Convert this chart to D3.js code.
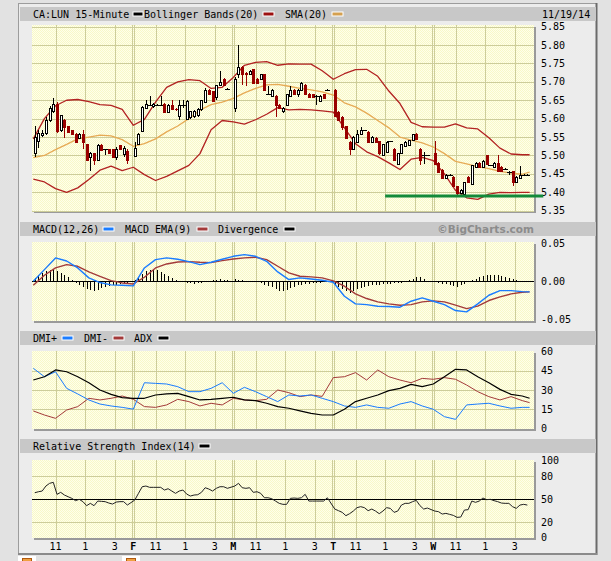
<!DOCTYPE html>
<html>
<head>
<meta charset="utf-8">
<script src="https://cdn.jsdelivr.net/npm/d3@7"></script>
<style>
  html, body { margin: 0; padding: 0; background: #e2e2e2; }
  svg { display: block; }
  text { font-family: "DejaVu Sans Mono", monospace; font-size: 10px; fill: #000; }
</style>
</head>
<body>
<div id="chart"></div>
<script>
// ---- data ----
const dayLetters = ["", "F", "M", "T", "W"];
const hourLabels = ["11", "1", "3"];
const hourSlots = [6, 14, 22];          // 11:00, 1:00, 3:00 inside a 27-slot day
const barsPerDay = 26;
const slotsPerDay = 27;

const priceTicks = [5.35, 5.40, 5.45, 5.50, 5.55, 5.60, 5.65, 5.70, 5.75, 5.80, 5.85];
const macdTicks = [0.05, 0, -0.05];
const macdTickLabels = ["0.05", "0.00", "-0.05"];
const dmiTicks = [60, 45, 30, 15, 0];
const rsiTicks = [100, 80, 50, 20, 0];

// 15-minute candles, 5 days x 26 bars
const opens = [
  5.506,5.54,5.555,5.56,5.595,5.621,5.641,5.568,5.597,5.58,5.568,5.559,5.548,5.559,5.53,5.497,5.507,5.488,5.529,5.518,5.518,5.518,5.497,5.529,5.505,5.513,
  5.498,5.53,5.567,5.63,5.638,5.633,5.638,5.638,5.64,5.618,5.638,5.627,5.607,5.636,5.60,5.605,5.607,5.609,5.625,5.645,5.679,5.674,5.659,5.691,5.709,5.68,
  5.63,5.721,5.739,5.725,5.72,5.734,5.709,5.709,5.72,5.668,5.661,5.661,5.638,5.621,5.638,5.661,5.679,5.668,5.679,5.691,5.668,5.666,5.661,5.648,5.666,5.679,
  5.679,5.618,5.605,5.579,5.536,5.518,5.536,5.559,5.568,5.565,5.536,5.548,5.538,5.50,5.509,5.538,5.518,5.477,5.506,5.527,5.529,5.541,5.559,5.518,5.50,5.50,
  5.506,5.48,5.46,5.439,5.448,5.441,5.416,5.397,5.394,5.441,5.423,5.468,5.479,5.47,5.50,5.473,5.468,5.479,5.47,5.464,5.455,5.457,5.427,5.439,5.448,5.448
];
const highs = [
  5.579,5.57,5.57,5.605,5.635,5.655,5.645,5.61,5.60,5.58,5.57,5.56,5.561,5.568,5.53,5.51,5.507,5.53,5.53,5.518,5.518,5.518,5.523,5.529,5.525,5.518,
  5.536,5.56,5.635,5.65,5.661,5.642,5.64,5.661,5.642,5.64,5.65,5.63,5.65,5.65,5.65,5.622,5.624,5.63,5.652,5.682,5.68,5.676,5.692,5.729,5.71,5.682,
  5.714,5.80,5.742,5.728,5.732,5.736,5.711,5.722,5.722,5.69,5.681,5.663,5.64,5.632,5.668,5.69,5.681,5.681,5.70,5.693,5.67,5.668,5.663,5.663,5.668,5.681,
  5.681,5.62,5.607,5.581,5.538,5.552,5.568,5.577,5.57,5.567,5.552,5.55,5.54,5.532,5.538,5.54,5.52,5.508,5.532,5.538,5.543,5.559,5.562,5.52,5.509,5.502,
  5.539,5.482,5.462,5.45,5.45,5.443,5.418,5.408,5.429,5.443,5.475,5.481,5.481,5.488,5.502,5.475,5.481,5.50,5.472,5.466,5.457,5.459,5.443,5.471,5.45,5.45
];
const lows = [
  5.497,5.52,5.55,5.555,5.59,5.615,5.56,5.565,5.548,5.563,5.557,5.535,5.544,5.518,5.488,5.459,5.475,5.486,5.512,5.50,5.505,5.497,5.488,5.515,5.497,5.477,
  5.498,5.528,5.565,5.628,5.636,5.63,5.636,5.636,5.615,5.615,5.625,5.62,5.596,5.63,5.595,5.60,5.603,5.605,5.622,5.642,5.664,5.645,5.65,5.689,5.689,5.678,
  5.618,5.71,5.691,5.69,5.718,5.696,5.696,5.707,5.677,5.664,5.659,5.605,5.628,5.614,5.636,5.659,5.666,5.659,5.677,5.666,5.657,5.657,5.638,5.646,5.655,5.677,
  5.605,5.595,5.568,5.545,5.50,5.516,5.534,5.557,5.566,5.534,5.534,5.534,5.50,5.498,5.507,5.536,5.486,5.475,5.504,5.525,5.527,5.539,5.543,5.474,5.477,5.498,
  5.475,5.453,5.437,5.437,5.446,5.416,5.393,5.394,5.392,5.425,5.42,5.466,5.466,5.468,5.475,5.471,5.466,5.457,5.455,5.462,5.446,5.418,5.425,5.437,5.446,5.446
];
const closes = [
  5.55,5.56,5.56,5.597,5.63,5.639,5.566,5.609,5.577,5.565,5.559,5.536,5.559,5.536,5.488,5.507,5.488,5.529,5.515,5.518,5.507,5.497,5.518,5.518,5.52,5.488,
  5.52,5.559,5.632,5.64,5.638,5.64,5.638,5.638,5.618,5.638,5.627,5.625,5.638,5.636,5.648,5.62,5.621,5.627,5.65,5.679,5.666,5.648,5.691,5.70,5.691,5.68,
  5.709,5.741,5.72,5.72,5.729,5.698,5.698,5.72,5.679,5.668,5.679,5.636,5.63,5.63,5.666,5.679,5.668,5.679,5.698,5.668,5.659,5.659,5.661,5.661,5.657,5.679,
  5.607,5.597,5.577,5.547,5.518,5.55,5.559,5.568,5.568,5.536,5.55,5.536,5.506,5.53,5.536,5.538,5.488,5.506,5.53,5.536,5.541,5.557,5.545,5.488,5.50,5.50,
  5.477,5.455,5.439,5.448,5.448,5.418,5.397,5.406,5.427,5.427,5.473,5.479,5.468,5.486,5.477,5.473,5.479,5.459,5.457,5.464,5.455,5.427,5.441,5.448,5.448,5.448
];

// per-bar indicator values
const macdHist = [
  .0044,.0078,.0104,.0131,.0152,.0165,.0139,.0113,.0078,.0052,.0017,-.0017,-.0044,-.007,-.0096,-.0113,-.0122,-.0109,-.0087,-.0078,-.0065,-.0052,-.0044,-.0035,-.0026,-.0017,
  .0013,.0052,.0096,.0131,.0148,.0152,.0144,.0122,.0096,.0074,.0044,.0022,.0009,-.0009,-.0017,-.0026,-.0035,-.0026,-.0017,-.0004,.0009,.0013,.0022,.0026,.0022,.0017,
  .0026,.0022,.0013,.0009,.0009,-.0004,-.0013,-.0026,-.0044,-.0061,-.0078,-.0104,-.0122,-.0131,-.0113,-.0087,-.007,-.0052,-.0044,-.0035,-.003,-.0026,-.0022,-.0017,-.0013,-.0009,
  -.0044,-.0078,-.0104,-.0131,-.0148,-.0131,-.0104,-.0087,-.007,-.0061,-.0052,-.0048,-.0044,-.0039,-.0035,-.003,-.0026,-.0022,-.0017,-.0009,.0017,.0035,.0061,.0052,.0026,.0009,
  -.0009,-.0022,-.003,-.0039,-.0052,-.0061,-.007,-.0052,-.0035,-.0013,.0013,.0035,.0052,.007,.0078,.0083,.0083,.0078,.007,.0061,.0048,.0035,.0017,.0009,.0004,0
];
const rsi = [
  58.4,59.7,60.6,67.1,70.6,71.9,56.3,58.9,55.4,53.2,51.1,48.1,49.8,46.8,41.6,44.6,41.6,47.6,47.2,46.8,45,43.7,46.3,46.8,46.8,42.4,
  48.9,57.6,66.2,67.1,65.4,65.4,65.4,65.4,61.9,63.6,60.6,57.6,60.6,61.9,56.7,54.1,55.4,55.8,58.9,64.9,63.2,60.6,64.1,66.2,66.2,64.1,
  67.1,70.6,64.9,64.1,64.9,58.9,59.7,57.6,51.9,51.9,50.6,47.6,44.6,43.3,43.3,51.1,51.5,51.1,51.9,56.3,47.6,47.6,47.6,47.6,47.6,51.9,
  37.2,35.1,32.9,28.6,31.2,34.6,39,40.3,39,35.1,37.2,34.6,31.2,34.6,39,38.1,32.9,34.6,42.4,44.6,44.6,46.8,48.5,41.6,37.2,38.5,
  34.6,33.8,30.7,31.6,30.3,29,26.4,26.8,35.9,36.4,47.6,45.9,47.6,51.5,49.4,49.8,48.1,46.8,45,44.6,44.6,40.3,38.1,42.4,43.3,42.4
];

// smoother lines, sampled every 3 slots
const lineSlots = [0,3,6,9,12,15,18,21,24,27,30,33,36,39,42,45,48,51,54,57,60,63,66,69,72,75,78,81,84,87,90,93,96,99,102,105,108,111,114,117,120,123,126,129,132,134];
const bbUpper = [5.545,5.60,5.635,5.65,5.652,5.646,5.638,5.636,5.625,5.582,5.598,5.645,5.685,5.70,5.706,5.703,5.682,5.685,5.712,5.745,5.753,5.755,5.745,5.749,5.748,5.748,5.73,5.707,5.722,5.733,5.734,5.715,5.675,5.641,5.59,5.578,5.577,5.577,5.586,5.575,5.572,5.548,5.52,5.504,5.502,5.502];
const bbLower = [5.436,5.428,5.41,5.40,5.412,5.435,5.46,5.471,5.459,5.468,5.448,5.432,5.443,5.458,5.473,5.505,5.57,5.595,5.591,5.585,5.597,5.612,5.63,5.624,5.625,5.624,5.621,5.618,5.575,5.532,5.51,5.497,5.48,5.462,5.49,5.495,5.486,5.45,5.405,5.385,5.381,5.395,5.40,5.399,5.40,5.40];
const sma20 = [5.494,5.50,5.516,5.53,5.545,5.55,5.555,5.553,5.543,5.525,5.532,5.545,5.564,5.58,5.60,5.623,5.638,5.645,5.655,5.67,5.682,5.692,5.693,5.688,5.682,5.678,5.673,5.664,5.643,5.632,5.615,5.595,5.575,5.55,5.542,5.534,5.523,5.505,5.484,5.477,5.47,5.464,5.457,5.452,5.449,5.455];
const macdLine = [0,.0152,.0305,.0265,.0174,.0044,-.0017,-.0048,-.0052,-.0061,.0174,.0283,.0305,.0287,.0257,.0218,.0248,.0287,.0326,.0348,.0326,.0261,.0122,.0022,.0044,.003,.0013,-.0013,-.0196,-.0296,-.0305,-.0326,-.0331,-.0339,-.0261,-.0218,-.0261,-.0305,-.0383,-.04,-.0296,-.0183,-.0122,-.0122,-.0135,-.0139];
const macdSignal = [-.0052,.0078,.0174,.0218,.0196,.0122,.0065,.0009,-.0022,-.0035,.0052,.0174,.0226,.0252,.0257,.0248,.0244,.027,.0291,.0305,.0313,.0283,.0196,.0109,.0065,.0057,.0044,.0004,-.0065,-.0165,-.0226,-.027,-.0296,-.0313,-.0305,-.027,-.0257,-.027,-.0313,-.0357,-.0326,-.0252,-.0204,-.0165,-.0144,-.0139];
const dmiPlus = [47,40.4,44.3,31.3,26.9,22.2,19,17.5,16.4,15,35.7,35.2,34.7,32.6,28.7,28.7,31.3,35.7,27.4,32.1,28.7,24.8,20.9,26.1,25.3,26.1,23.5,20.9,17.5,16.4,18.3,16.4,15.7,19,20.9,17.5,14.9,9.1,7,18.3,19,19.6,17.5,15.7,16.4,16.4];
const dmiMinus = [13.6,10.4,7.8,14.3,17,23.5,22.2,23.5,25.3,22.7,17,16.4,18.3,22.7,20.9,17.5,19.6,18.3,23.5,22.2,21.7,22.7,30,27.9,24.8,26.1,25,39.7,40.4,43.6,37.8,45.7,40.4,37.8,35.7,39.1,38.4,39.7,38.4,33.9,28.7,24.8,22.2,24.8,21.7,20.1];
const adx = [37.8,40.4,45.7,44.3,40.4,35.7,30,26.6,24,23.5,23.5,26.1,26.9,27.4,24.8,22.2,22.7,23.5,24.3,22.2,21.7,19.6,17,15.7,13.6,11.7,10.4,10.4,14.9,20.9,23.5,26.1,29.5,31.3,34.4,32.6,34.7,40.4,46.2,45.7,40.4,35.7,30.5,26.6,25.3,23.5];

const supportLevel = 5.39;
const supportStartSlot = 95;

// ---- layout ----
const W = 611, H = 561;
const plotLeft = 32, plotRight = 534;

const svg = d3.select("#chart").append("svg")
    .attr("width", W).attr("height", H)
    .attr("viewBox", `0 0 ${W} ${H}`);

const defs = svg.append("defs");
const pat = defs.append("pattern")
    .attr("id", "dots").attr("width", 2).attr("height", 2)
    .attr("patternUnits", "userSpaceOnUse");
pat.append("rect").attr("width", 2).attr("height", 2).attr("fill", "#ffffea");
pat.append("rect").attr("width", 1).attr("height", 1).attr("fill", "#f8f8c8");
pat.append("rect").attr("x", 1).attr("y", 1).attr("width", 1).attr("height", 1).attr("fill", "#f8f8c8");

// outer frame
svg.append("rect").attr("width", W).attr("height", H).attr("fill", "#e2e2e2");
svg.append("rect").attr("x", 18).attr("y", 3).attr("width", 579).attr("height", 551).attr("fill", "#ececec");
svg.append("line").attr("x1", 18.5).attr("x2", 18.5).attr("y1", 3).attr("y2", 554).attr("stroke", "#9c9c9c");
svg.append("line").attr("x1", 18).attr("x2", 597).attr("y1", 3.5).attr("y2", 3.5).attr("stroke", "#9c9c9c");
svg.append("line").attr("x1", 596.5).attr("x2", 596.5).attr("y1", 3).attr("y2", 555).attr("stroke", "#6a6a6a").attr("stroke-width", 2);
svg.append("line").attr("x1", 18).attr("x2", 597).attr("y1", 554).attr("y2", 554).attr("stroke", "#8a8a8a").attr("stroke-width", 2);

// little icons under the frame (cut off by the window)
[22, 126].forEach(ix => {
  svg.append("rect").attr("x", ix - 4).attr("y", 556).attr("width", 18).attr("height", 6).attr("fill", "#ffffff");
  svg.append("rect").attr("x", ix + 0.5).attr("y", 558.5).attr("width", 9).attr("height", 6)
      .attr("fill", "#f0a040").attr("stroke", "#b05a10");
});

const x = d3.scaleLinear().domain([0, 135]).range([33.3, 533.3]);
const bars = opens.map((o, k) => ({
  o, h: highs[k], l: lows[k], c: closes[k],
  u: Math.floor(k / barsPerDay) * slotsPerDay + (k % barsPerDay) + 0.4
}));

const panels = {
  price: {bar: 7,   top: 25,  bottom: 211},
  macd:  {bar: 222, top: 242, bottom: 321},
  dmi:   {bar: 331, top: 351, bottom: 429},
  rsi:   {bar: 439, top: 460, bottom: 538}
};

const yPrice = d3.scaleLinear().domain([5.35, 5.85]).range([210.7, 26.6]);
const yMacd = d3.scaleLinear().domain([-0.05, 0.05]).range([319.5, 243]);
const yDmi = d3.scaleLinear().domain([0, 60]).range([428.3, 351.7]);
const yRsi = d3.scaleLinear().domain([0, 100]).range([537.7, 460.7]);

function titleBar(p, items, extra) {
  svg.append("rect").attr("x", 20).attr("y", p.bar).attr("width", 576).attr("height", 14).attr("fill", "#c8c8c8");
  items.forEach(it => {
    if (it.text) {
      svg.append("text").attr("x", it.x).attr("y", p.bar + 10.5).text(it.text);
    } else {
      svg.append("rect").attr("x", it.x).attr("y", p.bar + 5).attr("width", it.w || 11).attr("height", 4)
          .attr("fill", it.color).attr("stroke", "#ffffff").attr("stroke-width", 1);
    }
  });
}

function panelFrame(p, y, hTicks, labels, hGrid) {
  const g = svg.append("g").attr("shape-rendering", "crispEdges");
  g.append("rect").attr("x", plotLeft + 2).attr("y", p.top + 2)
      .attr("width", plotRight - plotLeft).attr("height", p.bottom - p.top).attr("fill", "#9a9a9a");
  g.append("rect").attr("x", plotLeft).attr("y", p.top)
      .attr("width", plotRight - plotLeft).attr("height", p.bottom - p.top).attr("fill", "url(#dots)");

  const grid = "#cdcd9a";
  hGrid.forEach(v => {
    g.append("line").attr("x1", plotLeft).attr("x2", plotRight)
        .attr("y1", Math.round(y(v)) + 0.5).attr("y2", Math.round(y(v)) + 0.5)
        .attr("stroke", grid).attr("stroke-width", 1.3);
  });
  d3.range(5).forEach(d => {
    hourSlots.forEach(h => {
      const xx = Math.round(x(d * slotsPerDay + h)) + 0.5;
      g.append("line").attr("x1", xx).attr("x2", xx).attr("y1", p.top).attr("y2", p.bottom)
          .attr("stroke", grid).attr("stroke-width", 1.3);
    });
    if (d > 0) {
      const xx = Math.round(x(d * slotsPerDay));
      [-1, 1].forEach(off => {
        g.append("line").attr("x1", xx + off + 0.5).attr("x2", xx + off + 0.5).attr("y1", p.top).attr("y2", p.bottom)
            .attr("stroke", grid).attr("stroke-width", 1);
      });
    }
  });

  hTicks.forEach((v, i) => {
    svg.append("text").attr("x", 541).attr("y", y(v)).attr("dy", "0.36em").text(labels[i]);
  });
}

function slotLine(values, y, color, width) {
  const line = d3.line().x((d, i) => x(lineSlots[i])).y(d => y(d));
  svg.append("path").datum(values).attr("d", line)
      .attr("fill", "none").attr("stroke", color).attr("stroke-width", width).attr("stroke-linejoin", "round");
}

// ---- price panel ----
titleBar(panels.price, [
  {text: "CA:LUN 15-Minute", x: 33},
  {x: 133, color: "#000000", w: 10},
  {text: "Bollinger Bands(20)", x: 144},
  {x: 263, color: "#9c1010"},
  {text: "SMA(20)", x: 285},
  {x: 332, color: "#d4a050"}
]);
svg.append("text").attr("x", 542).attr("y", panels.price.bar + 10.5).text("11/19/14");
panelFrame(panels.price, yPrice, priceTicks, priceTicks.map(d3.format(".2f")), priceTicks);

slotLine(bbUpper, yPrice, "#b22222", 1.3);
slotLine(bbLower, yPrice, "#b22222", 1.3);
slotLine(sma20, yPrice, "#e6aa55", 1.3);

const candles = svg.append("g").attr("shape-rendering", "crispEdges");
bars.forEach(b => {
  const cx = Math.round(x(b.u));
  const up = b.c > b.o + 0.0015, down = b.c < b.o - 0.0015;
  const red = "#990000";
  candles.append("line").attr("x1", cx + 0.5).attr("x2", cx + 0.5)
      .attr("y1", yPrice(b.h)).attr("y2", yPrice(b.l))
      .attr("stroke", down ? red : "#000").attr("stroke-width", 1);
  if (up) {
    const top = Math.round(yPrice(b.c)), bot = Math.round(yPrice(b.o));
    candles.append("rect").attr("x", cx - 1 + 0.5).attr("y", top + 0.5)
        .attr("width", 2).attr("height", Math.max(1, bot - top))
        .attr("fill", "#ffffff").attr("stroke", "#000").attr("stroke-width", 1);
  } else if (down) {
    const top = Math.round(yPrice(b.o)), bot = Math.round(yPrice(b.c));
    candles.append("rect").attr("x", cx - 1).attr("y", top)
        .attr("width", 3).attr("height", Math.max(1, bot - top + 1)).attr("fill", red);
  } else {
    const yy = Math.round(yPrice(b.c)) + 0.5;
    candles.append("line").attr("x1", cx - 2).attr("x2", cx + 3).attr("y1", yy).attr("y2", yy)
        .attr("stroke", "#000").attr("stroke-width", 1);
  }
});

svg.append("line")
    .attr("x1", x(supportStartSlot)).attr("x2", x(135) + 10)
    .attr("y1", yPrice(supportLevel)).attr("y2", yPrice(supportLevel))
    .attr("stroke", "#138a3a").attr("stroke-width", 3);

// ---- MACD panel ----
titleBar(panels.macd, [
  {text: "MACD(12,26)", x: 33},
  {x: 103, color: "#1a7cff"},
  {text: "MACD EMA(9)", x: 125},
  {x: 197, color: "#a33a3a"},
  {text: "Divergence", x: 218},
  {x: 284, color: "#000000"}
]);
svg.append("text").attr("x", 534).attr("y", panels.macd.bar + 11)
    .attr("text-anchor", "end")
    .style("font-family", "'DejaVu Sans', sans-serif").style("font-size", "10.5px")
    .style("font-weight", "bold").style("fill", "#8c8c8c")
    .text("\u00A9BigCharts.com");
panelFrame(panels.macd, yMacd, macdTicks, macdTickLabels, []);

const histG = svg.append("g").attr("shape-rendering", "crispEdges");
bars.forEach((b, k) => {
  const cx = Math.round(x(b.u)) + 0.5;
  histG.append("line").attr("x1", cx).attr("x2", cx)
      .attr("y1", yMacd(0)).attr("y2", yMacd(macdHist[k]))
      .attr("stroke", "#000").attr("stroke-width", 1);
});
svg.append("line").attr("x1", plotLeft).attr("x2", plotRight)
    .attr("y1", Math.round(yMacd(0)) + 0.5).attr("y2", Math.round(yMacd(0)) + 0.5)
    .attr("stroke", "#000").attr("stroke-width", 1.2);
slotLine(macdSignal, yMacd, "#a33a3a", 1.4);
slotLine(macdLine, yMacd, "#1a7cff", 1.4);

// ---- DMI panel ----
titleBar(panels.dmi, [
  {text: "DMI+", x: 33},
  {x: 62, color: "#1a7cff"},
  {text: "DMI-", x: 84},
  {x: 113, color: "#a33a3a"},
  {text: "ADX", x: 134},
  {x: 158, color: "#000000"}
]);
panelFrame(panels.dmi, yDmi, dmiTicks, dmiTicks.map(String), [15, 30, 45]);
slotLine(dmiMinus, yDmi, "#a33a3a", 1);
slotLine(dmiPlus, yDmi, "#1a7cff", 1);
slotLine(adx, yDmi, "#000000", 1.2);

// ---- RSI panel ----
titleBar(panels.rsi, [
  {text: "Relative Strength Index(14)", x: 33},
  {x: 199, color: "#000000"}
]);
panelFrame(panels.rsi, yRsi, rsiTicks, rsiTicks.map(String), [20, 80]);
svg.append("line").attr("x1", plotLeft).attr("x2", plotRight)
    .attr("y1", Math.round(yRsi(50)) + 0.5).attr("y2", Math.round(yRsi(50)) + 0.5)
    .attr("stroke", "#000").attr("stroke-width", 1.2);
svg.append("path").datum(rsi)
    .attr("d", d3.line().x((d, k) => x(bars[k].u)).y(d => yRsi(d)))
    .attr("fill", "none").attr("stroke", "#222").attr("stroke-width", 1);

// ---- time axis ----
d3.range(5).forEach(d => {
  hourSlots.forEach((h, i) => {
    svg.append("text").attr("x", x(d * slotsPerDay + h)).attr("y", 550)
        .attr("text-anchor", "middle").text(hourLabels[i]);
  });
  if (dayLetters[d]) {
    svg.append("text").attr("x", x(d * slotsPerDay)).attr("y", 550)
        .attr("text-anchor", "middle").style("font-weight", "bold").text(dayLetters[d]);
  }
});
</script>
</body>
</html>
